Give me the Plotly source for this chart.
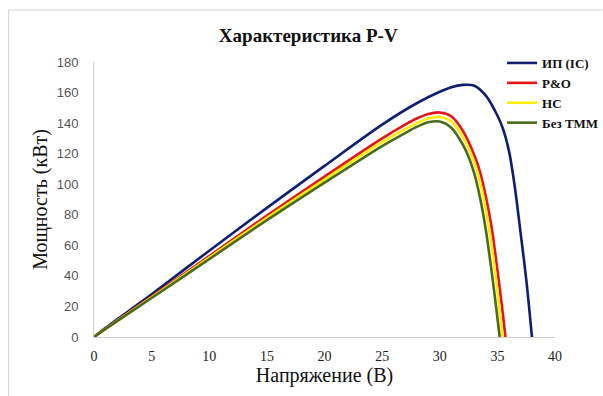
import plotly.graph_objects as go

# P-V characteristic: voltage (V) and power (kW) for each tracking method
v_ic = [0, 1, 5, 10, 15, 20, 25, 28, 30, 31, 32, 33, 34, 35, 35.5, 36, 36.5, 37, 37.5, 38]
p_ic = [0, 6, 28, 56.5, 84.5, 112, 139, 153, 160.5, 163.5, 165, 164.5, 158, 145, 136, 122, 99, 69, 38, 0]

v_po = [0, 1, 5, 10, 15, 20, 25, 27, 28, 29, 30, 31, 32, 33, 33.5, 34, 34.5, 35, 35.4, 35.7]
p_po = [0, 5.5, 26.5, 53, 79.5, 105, 130, 139, 143, 146, 147, 144.5, 135, 119, 108, 92, 72, 44, 20, 0]

v_hc = [0, 1, 5, 10, 15, 20, 25, 27, 28, 29, 30, 31, 32, 33, 33.5, 34, 34.5, 35, 35.45]
p_hc = [0, 5.4, 26, 52, 78, 103, 127.5, 136, 140, 143, 144, 141, 131, 114, 101, 83, 60, 30, 0]

v_no = [0, 1, 5, 10, 15, 20, 25, 27, 28, 29, 30, 31, 32, 32.5, 33, 33.5, 34, 34.5, 34.9, 35.2]
p_no = [0, 5.3, 25.5, 51, 76.5, 101, 125, 133.5, 137.5, 140.5, 141, 137, 126, 118, 107, 91, 70, 43, 19, 0]

series = [
    ("ИП (IC)", v_ic, p_ic, "#0d1f6e"),
    ("P&O", v_po, p_po, "#e3141b"),
    ("НС", v_hc, p_hc, "#ffee00"),
    ("Без ТММ", v_no, p_no, "#4a6a1e"),
]

x_ticks = [0, 5, 10, 15, 20, 25, 30, 35, 40]
y_ticks = [0, 20, 40, 60, 80, 100, 120, 140, 160, 180]

SERIF = "Liberation Serif"
SANS = "Liberation Sans"

fig = go.Figure()
for name, v, p, color in series:
    fig.add_trace(go.Scatter(
        x=v, y=p, name=name, mode="lines",
        line=dict(color=color, width=2.6, shape="spline", smoothing=0.8),
    ))

W, H = 603, 396
ml, mr, mt, mb = 93.5, 48, 62, 59
pw, ph = W - ml - mr, H - mt - mb

fig.update_layout(
    width=W, height=H,
    margin=dict(l=ml, r=mr, t=mt, b=mb, autoexpand=False),
    paper_bgcolor="white", plot_bgcolor="white",
    title=dict(text="<b>Характеристика P-V</b>", x=(308 - ml) / pw, xref="paper",
               xanchor="center", y=1 - 35 / H, yanchor="middle",
               font=dict(family=SERIF, size=19, color="#111111")),
    showlegend=True,
    legend=dict(
        x=(502 - ml) / pw, y=(H - mb - 48) / ph, xanchor="left", yanchor="top",
        font=dict(family=SERIF, size=13, color="#111111", weight="bold"),
        bgcolor="rgba(0,0,0,0)", borderwidth=0,
        tracegroupgap=0,
    ),
    xaxis=dict(
        range=[0, 40], tickmode="array", tickvals=x_ticks,
        showgrid=False, zeroline=False,
        showline=True, linecolor="#d0d0d0", linewidth=1,
        ticks="", ticklabelstandoff=6,
        tickfont=dict(family=SERIF, size=14, color="#222222"),
        title=dict(text="Напряжение (В)", standoff=2,
                   font=dict(family=SERIF, size=20, color="#111111")),
    ),
    yaxis=dict(
        range=[0, 180], tickmode="array", tickvals=y_ticks,
        showgrid=False, zeroline=False,
        showline=True, linecolor="#d0d0d0", linewidth=1,
        ticks="", ticklabelstandoff=12,
        tickfont=dict(family=SANS, size=13, color="#555555"),
        title=dict(text="Мощность (кВт)", standoff=3,
                   font=dict(family=SERIF, size=20, color="#111111")),
    ),
    shapes=[
        # frame of the chart area (top and left edges)
        dict(type="line", xref="paper", yref="paper",
             x0=(8 - ml) / pw, x1=(W - ml) / pw,
             y0=(H - mb - 10) / ph, y1=(H - mb - 10) / ph,
             line=dict(color="#d6d6d6", width=1.2), layer="above"),
        dict(type="line", xref="paper", yref="paper",
             x0=(8 - ml) / pw, x1=(8 - ml) / pw,
             y0=-(mb) / ph, y1=(H - mb - 10) / ph,
             line=dict(color="#d6d6d6", width=1.2), layer="above"),
    ],
)

fig.write_html("out.html")
